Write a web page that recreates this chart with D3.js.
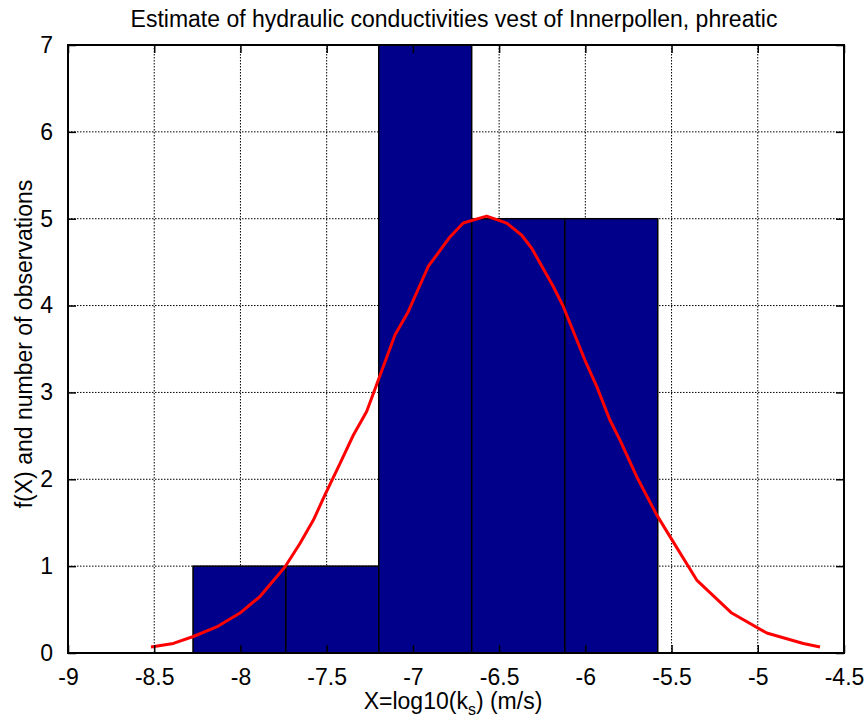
<html>
<head>
<style>
  body { margin: 0; background: #fff; }
  svg { display: block; font-family: "Liberation Sans", Arial, Helvetica, sans-serif; }
</style>
<script src="https://d3js.org/d3.v7.min.js"></script>
</head>
<body>
<svg id="chart"></svg>
<script>
  // histogram bins (edges) and counts
  let binEdges = [-8.275, -7.737, -7.198, -6.659, -6.119, -5.58];
  let counts = [1, 1, 7, 5, 5];

  // fitted density curve
  let curveX = [-8.519, -8.389, -8.273, -8.138, -8.003, -7.887, -7.742, -7.655, -7.577, -7.510,
                -7.423, -7.345, -7.268, -7.201, -7.104, -7.027, -6.911, -6.785, -6.708, -6.572,
                -6.456, -6.369, -6.311, -6.186, -6.128, -6.002, -5.934, -5.857, -5.799, -5.702,
                -5.586, -5.509, -5.354, -5.151, -4.948, -4.736, -4.639];
  let curveY = [0.07, 0.11, 0.19, 0.30, 0.46, 0.65, 0.99, 1.26, 1.53, 1.82,
                2.18, 2.51, 2.78, 3.14, 3.66, 3.93, 4.45, 4.79, 4.95, 5.03,
                4.95, 4.81, 4.66, 4.22, 3.99, 3.37, 3.07, 2.68, 2.45, 2.03,
                1.59, 1.34, 0.84, 0.46, 0.23, 0.11, 0.07];

  let xTicks = [-9, -8.5, -8, -7.5, -7, -6.5, -6, -5.5, -5, -4.5];
  let yTicks = [0, 1, 2, 3, 4, 5, 6, 7];

  let titleText = "Estimate of hydraulic conductivities vest of Innerpollen, phreatic";
  let yLabelText = "f(X) and number of observations";

  let width = 864, height = 724;
  let margin = { top: 45, right: 20, bottom: 71, left: 68 };
  let bodyWidth = width - margin.left - margin.right;
  let bodyHeight = height - margin.top - margin.bottom;
  let fontSize = 23;

  let svg = d3.select("#chart").attr("width", width).attr("height", height);

  let xScale = d3.scaleLinear().domain([-9, -4.5]).range([0, bodyWidth]);
  let yScale = d3.scaleLinear().domain([0, 7]).range([bodyHeight, 0]);

  let body = svg.append("g").attr("transform", `translate(${margin.left},${margin.top})`);

  // grid (under the bars)
  let grid = body.append("g")
    .attr("stroke", "#000").attr("stroke-width", 1).attr("stroke-dasharray", "1.5,1.5");
  grid.selectAll(".gx").data(xTicks.slice(1, -1)).enter().append("line")
    .attr("x1", d => xScale(d)).attr("x2", d => xScale(d))
    .attr("y1", 0).attr("y2", bodyHeight);
  grid.selectAll(".gy").data(yTicks.slice(1, -1)).enter().append("line")
    .attr("y1", d => yScale(d)).attr("y2", d => yScale(d))
    .attr("x1", 0).attr("x2", bodyWidth);

  // bars
  body.selectAll(".bar").data(counts).enter().append("rect")
    .attr("x", (d, i) => xScale(binEdges[i]))
    .attr("width", (d, i) => xScale(binEdges[i + 1]) - xScale(binEdges[i]))
    .attr("y", d => yScale(d))
    .attr("height", d => bodyHeight - yScale(d))
    .attr("fill", "#00008b")
    .attr("stroke", "#000")
    .attr("stroke-width", 1.5);

  // curve
  let line = d3.line().x(d => xScale(d[0])).y(d => yScale(d[1]));
  body.append("path")
    .datum(curveX.map((x, i) => [x, curveY[i]]))
    .attr("d", line)
    .attr("fill", "none")
    .attr("stroke", "#ff0000")
    .attr("stroke-width", 3)
    .attr("stroke-linejoin", "round");

  // axes with inward ticks on all four sides
  let tickLen = 8;
  body.append("g").attr("transform", `translate(0,${bodyHeight})`)
    .call(d3.axisBottom(xScale).tickValues(xTicks).tickSize(-tickLen).tickPadding(tickLen + 8).tickFormat(d => String(d)));
  body.append("g")
    .call(d3.axisLeft(yScale).tickValues(yTicks).tickSize(-tickLen).tickPadding(tickLen + 7).tickFormat(d => String(d)));
  body.append("g")
    .call(d3.axisTop(xScale).tickValues(xTicks).tickSize(-tickLen).tickFormat(""));
  body.append("g").attr("transform", `translate(${bodyWidth},0)`)
    .call(d3.axisRight(yScale).tickValues(yTicks).tickSize(-tickLen).tickFormat(""));

  body.selectAll(".domain").remove();
  body.selectAll(".tick line").attr("stroke", "#000").attr("stroke-width", 1.5);
  body.selectAll(".tick text")
    .attr("fill", "#000")
    .style("font-size", fontSize + "px")
    .style("font-family", "'Liberation Sans', Arial, sans-serif");

  // frame
  body.append("rect")
    .attr("width", bodyWidth).attr("height", bodyHeight)
    .attr("fill", "none").attr("stroke", "#000").attr("stroke-width", 2);

  // title
  svg.append("text")
    .attr("x", margin.left + bodyWidth / 2 - 2).attr("y", 27)
    .attr("text-anchor", "middle")
    .style("font-size", fontSize + "px")
    .text(titleText);

  // x label with subscript
  let xLabel = svg.append("text")
    .attr("x", margin.left + bodyWidth / 2 - 3).attr("y", 709)
    .attr("text-anchor", "middle")
    .style("font-size", fontSize + "px");
  xLabel.append("tspan").text("X=log10(k");
  xLabel.append("tspan").attr("dy", 6).style("font-size", "16px").text("s");
  xLabel.append("tspan").attr("dy", -6).text(") (m/s)");

  // y label
  svg.append("text")
    .attr("transform", `translate(32,${margin.top + bodyHeight / 2 - 5}) rotate(-90)`)
    .attr("text-anchor", "middle")
    .style("font-size", fontSize + "px")
    .text(yLabelText);
</script>
</body>
</html>
